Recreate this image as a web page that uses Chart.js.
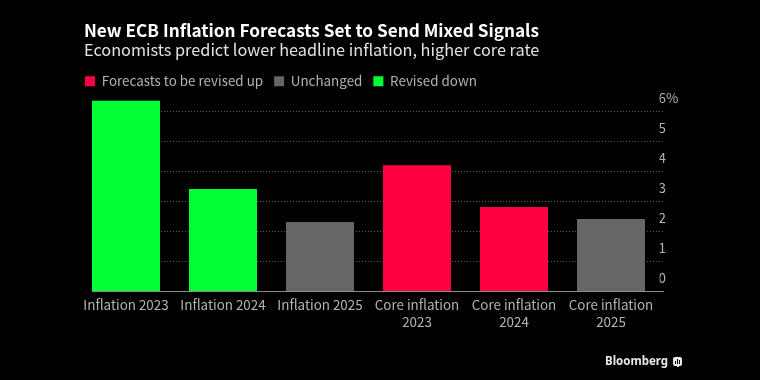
<!DOCTYPE html>
<html>
<head>
<meta charset="utf-8">
<script src="https://cdn.jsdelivr.net/npm/chart.js@4"></script>
<style>
    html, body { margin: 0; padding: 0; background: #000; }
    canvas { display: block; }
</style>
</head>
<body>
<canvas id="ecbChart" width="760" height="380"></canvas>
<script>
const categories = [
    "Inflation 2023", "Inflation 2024", "Inflation 2025",
    ["Core inflation", "2023"], ["Core inflation", "2024"], ["Core inflation", "2025"],
];
const revisedUp = [null, null, null, 4.2, 2.8, null];
const unchanged = [null, null, 2.3, null, null, 2.4];
const revisedDown = [6.35, 3.4, null, null, null, null];
const yTicks = [0, 1, 2, 3, 4, 5, 6];

const fontFamily = "'Noto Sans CJK SC', 'Noto Sans', sans-serif";

// Title and legend start further left than the plot, gridlines run past it
const chromePlugin = {
    id: "chrome",
    afterLayout(chart) {
        chart.boxes.forEach(box => {
            if (box === chart.legend) box.left = 74;
            else if (box.options && box.options.text) box.left = 84;
        });
    },
    beforeDatasetsDraw(chart) {
        const { ctx, scales: { y } } = chart;
        ctx.save();
        ctx.strokeStyle = "#5a5a5a";
        ctx.lineWidth = 1;
        ctx.setLineDash([1, 2]);
        yTicks.slice(1).forEach(tick => {
            const py = Math.round(y.getPixelForValue(tick)) + 0.5;
            ctx.beginPath();
            ctx.moveTo(92, py);
            ctx.lineTo(664, py);
            ctx.stroke();
        });
        ctx.restore();
    },
    afterDatasetsDraw(chart) {
        const { ctx, scales: { y } } = chart;
        const py = Math.round(y.getPixelForValue(0));
        ctx.save();
        ctx.strokeStyle = "#8c8c8c";
        ctx.lineWidth = 1;
        ctx.beginPath();
        ctx.moveTo(92, py + 0.5);
        ctx.lineTo(664, py + 0.5);
        ctx.stroke();
        // Bloomberg mark
        ctx.fillStyle = "#e8e8e8";
        ctx.font = "bold 11.5px 'Noto Sans', sans-serif";
        ctx.textBaseline = "middle";
        ctx.fillText("Bloomberg", 605, 362);
        ctx.beginPath();
        ctx.roundRect(673, 357, 9, 9, 2);
        ctx.fill();
        ctx.fillRect(677, 365, 2, 2);
        ctx.fillStyle = "#000";
        ctx.fillRect(675, 361, 1, 3);
        ctx.fillRect(677, 359, 1, 5);
        ctx.fillRect(679, 360, 1, 4);
        ctx.restore();
    },
};

new Chart(document.getElementById("ecbChart"), {
    type: "bar",
    data: {
        labels: categories,
        datasets: [
            { label: "Forecasts to be revised up", data: revisedUp, backgroundColor: "#ff0040" },
            { label: "Unchanged", data: unchanged, backgroundColor: "#666666" },
            { label: "Revised down", data: revisedDown, backgroundColor: "#00ff33" },
        ],
    },
    options: {
        responsive: false,
        animation: false,
        layout: { padding: { left: 77.5, top: 19.7, right: 0, bottom: 0 } },
        datasets: { bar: { categoryPercentage: 1, barPercentage: 68 / 97 } },
        plugins: {
            tooltip: { enabled: false },
            title: {
                display: true,
                text: "New ECB Inflation Forecasts Set to Send Mixed Signals",
                align: "start",
                color: "#ffffff",
                font: { family: fontFamily, size: 17.2, weight: "bold" },
                padding: 0,
            },
            subtitle: {
                display: true,
                text: "Economists predict lower headline inflation, higher core rate",
                align: "start",
                color: "#e2e2e2",
                font: { family: fontFamily, size: 16.3, weight: "normal" },
                padding: { top: 0, bottom: 3.7 },
            },
            legend: {
                position: "top",
                align: "start",
                onClick: null,
                labels: {
                    color: "#b4b4b4",
                    font: { family: fontFamily, size: 13.4 },
                    boxWidth: 10,
                    boxHeight: 10,
                    padding: 11,
                },
            },
        },
        scales: {
            x: {
                stacked: true,
                grid: { display: false },
                border: { display: false },
                afterFit: scale => { scale.height = 89; },
                ticks: {
                    color: "#b4b4b4",
                    font: { family: fontFamily, size: 13.4, lineHeight: 1.27 },
                    autoSkip: false,
                    maxRotation: 0,
                    padding: -2.5,
                },
            },
            y: {
                stacked: true,
                position: "right",
                min: 0,
                max: 6.44,
                grid: { display: false },
                border: { display: false },
                afterFit: scale => { scale.width = 100.5; },
                afterBuildTicks: scale => { scale.ticks = yTicks.map(value => ({ value })); },
                ticks: {
                    color: "#b4b4b4",
                    font: { family: fontFamily, size: 13.4 },
                    padding: -9,
                    labelOffset: -13,
                    callback: value => value === 6 ? "6%" : value,
                },
            },
        },
    },
    plugins: [chromePlugin],
});
</script>
</body>
</html>
